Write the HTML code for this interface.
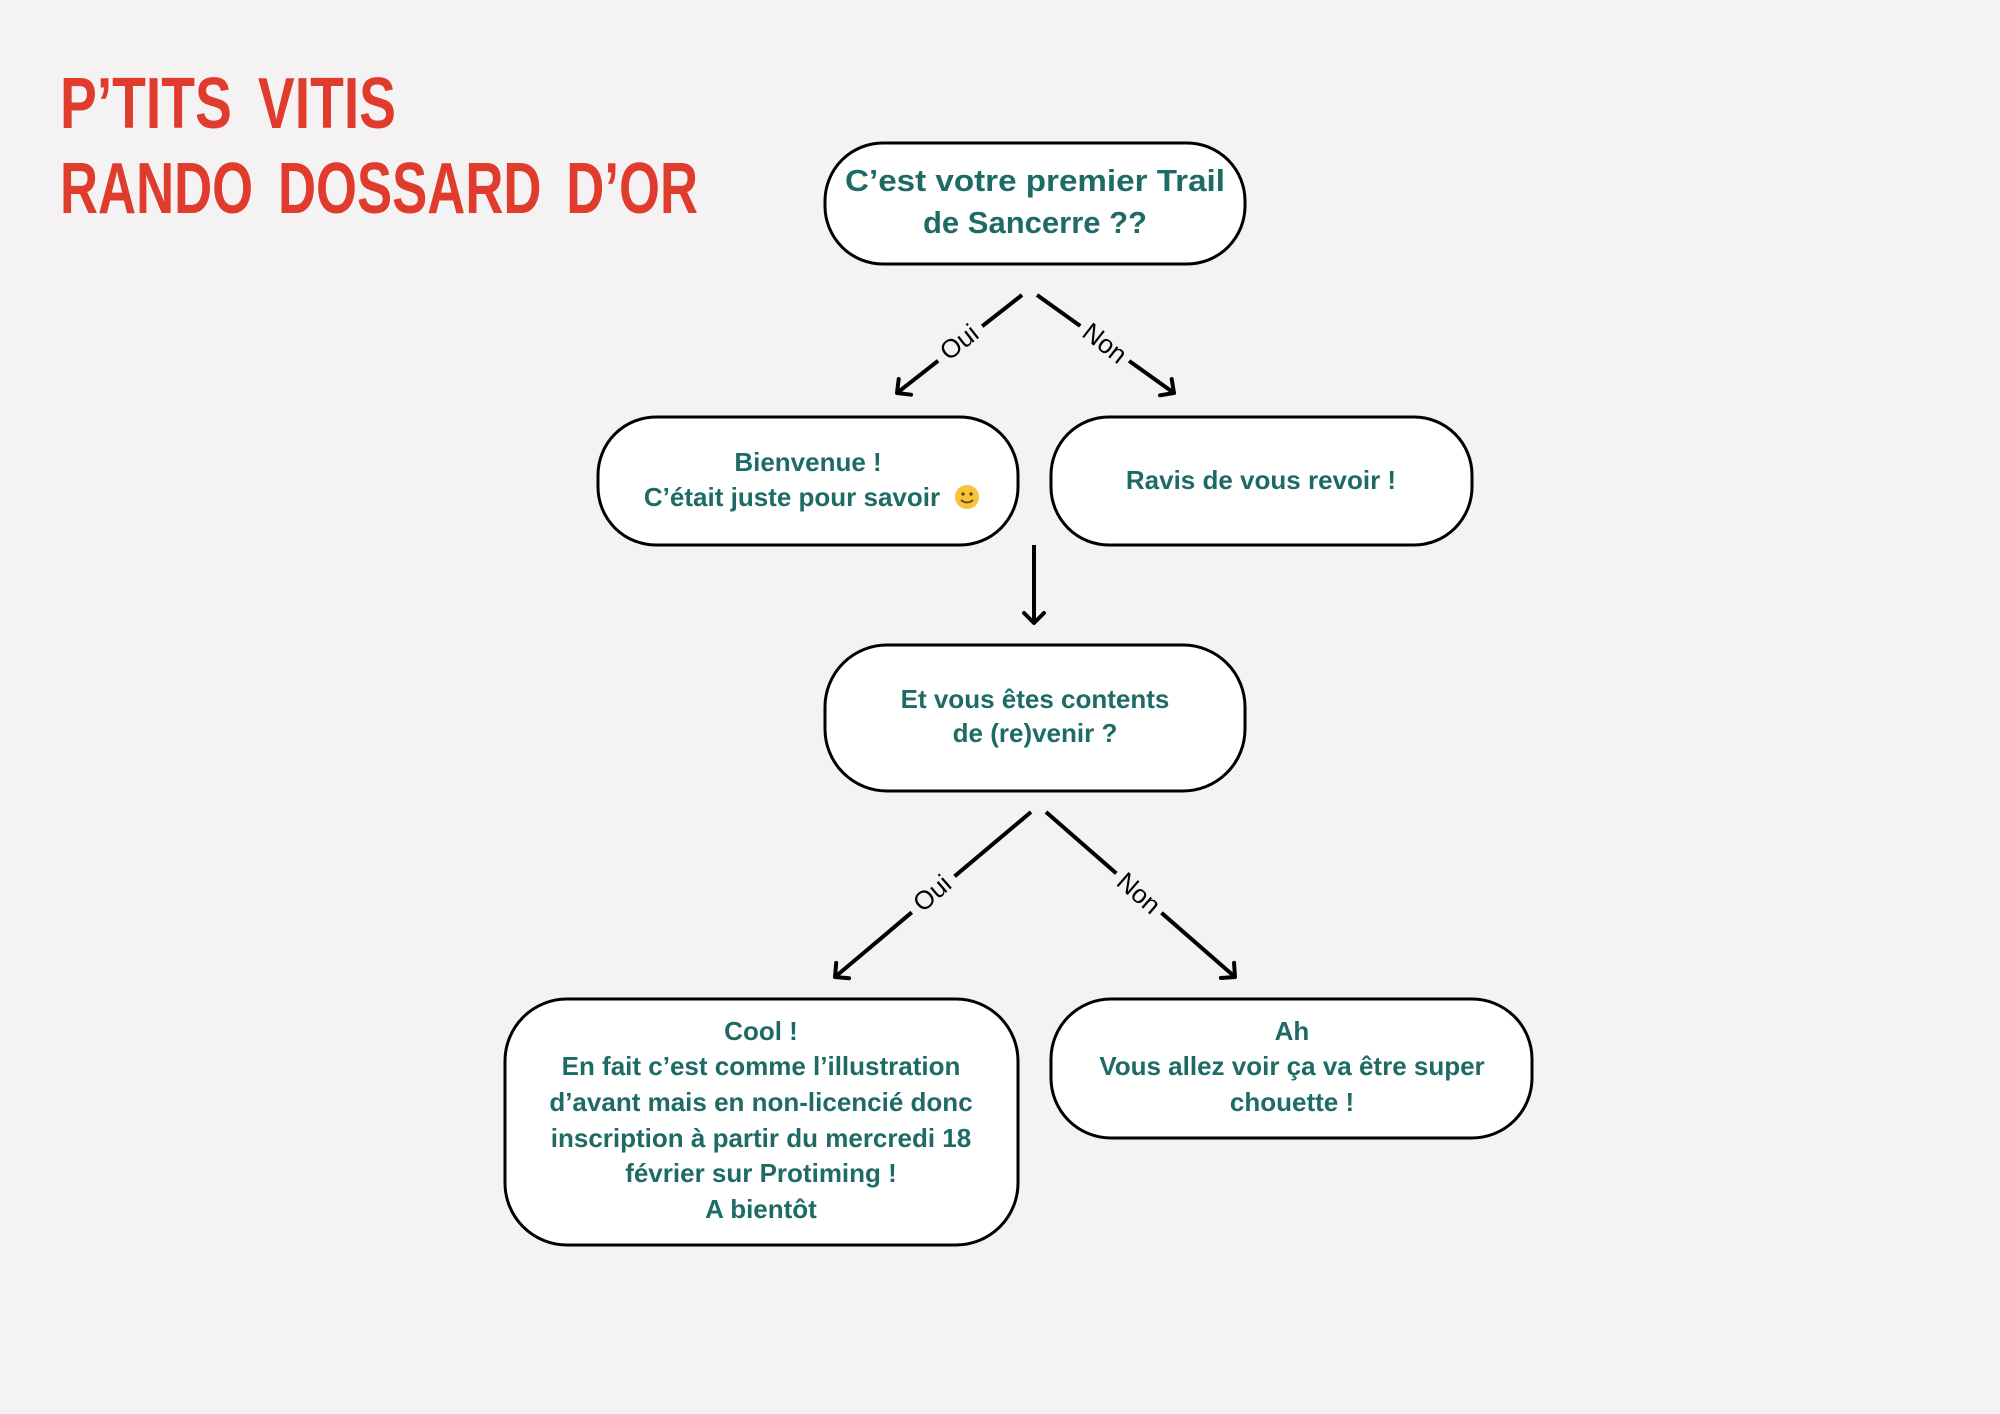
<!DOCTYPE html>
<html><head><meta charset="utf-8"><style>
html,body{margin:0;padding:0;background:#f4f2f2;}
svg{display:block}
.t{font-family:"Liberation Sans",sans-serif;font-weight:bold;fill:#1e6b66;text-anchor:middle}
.l{font-family:"Liberation Sans",sans-serif;font-size:26px;fill:#000;text-anchor:middle}
.b{fill:#fff;stroke:#000;stroke-width:3}
.a{stroke:#000;stroke-width:4;fill:none;marker-end:url(#m)}
</style></head><body>
<svg width="2000" height="1414" viewBox="0 0 2000 1414" xmlns="http://www.w3.org/2000/svg">
<defs><marker id="m" markerWidth="24" markerHeight="24" refX="12" refY="12" orient="auto" markerUnits="userSpaceOnUse" viewBox="0 0 24 24" overflow="visible">
<polyline points="2,2 12,12 2,22" fill="none" stroke="#000" stroke-width="4" stroke-linecap="round" stroke-linejoin="round"/>
</marker></defs>
<rect width="2000" height="1414" fill="#f4f2f2"/>
<g font-family="'Liberation Sans Narrow','Liberation Sans',sans-serif" font-weight="bold" fill="#e03c2e">
<text x="60" y="128" font-size="72" textLength="336" lengthAdjust="spacingAndGlyphs" word-spacing="14">P’TITS  VITIS</text>
<text x="60" y="213" font-size="72" textLength="638" lengthAdjust="spacingAndGlyphs" word-spacing="14">RANDO  DOSSARD  D’OR</text>
</g>
<rect class="b" x="825" y="143" width="420" height="121" rx="58"/>
<rect class="b" x="598" y="417" width="420" height="128" rx="58"/>
<rect class="b" x="1051" y="417" width="421" height="128" rx="58"/>
<rect class="b" x="825" y="645" width="420" height="146" rx="62"/>
<rect class="b" x="505" y="999" width="513" height="246" rx="62"/>
<rect class="b" x="1051" y="999" width="481" height="139" rx="60"/>

<text class="t" font-size="31" x="1035" y="191" textLength="380" lengthAdjust="spacingAndGlyphs">C’est votre premier Trail</text>
<text class="t" font-size="31" x="1035" y="233">de Sancerre ??</text>
<text class="t" font-size="26" x="808" y="471">Bienvenue !</text>
<text class="t" font-size="26" x="792" y="506">C’était juste pour savoir</text>
<circle cx="967" cy="497" r="12" fill="#f6c33a"/>
<circle cx="963" cy="494" r="1.6" fill="#5a3a10"/><circle cx="971" cy="494" r="1.6" fill="#5a3a10"/>
<path d="M961 500 Q967 505 973 500" stroke="#5a3a10" stroke-width="1.6" fill="none"/>
<text class="t" font-size="26" x="1261" y="489">Ravis de vous revoir !</text>
<text class="t" font-size="26" x="1035" y="708">Et vous êtes contents</text>
<text class="t" font-size="26" x="1035" y="742">de (re)venir ?</text>
<g class="t" font-size="26">
<text x="761" y="1040">Cool !</text>
<text x="761" y="1075">En fait c’est comme l’illustration</text>
<text x="761" y="1111">d’avant mais en non-licencié donc</text>
<text x="761" y="1147">inscription à partir du mercredi 18</text>
<text x="761" y="1182">février sur Protiming !</text>
<text x="761" y="1218">A bientôt</text>
<text x="1292" y="1040">Ah</text>
<text x="1292" y="1075">Vous allez voir ça va être super</text>
<text x="1292" y="1111">chouette !</text>
</g>

<line class="a" x1="1022" y1="295" x2="897" y2="393"/>
<line class="a" x1="1037" y1="295" x2="1174" y2="393"/>
<line class="a" x1="1034" y1="545" x2="1034" y2="623"/>
<line class="a" x1="1031" y1="812" x2="835" y2="977"/>
<line class="a" x1="1046" y1="812" x2="1235" y2="977"/>

<g transform="translate(959,342) rotate(-38)"><rect x="-28" y="-17" width="56" height="32" fill="#f4f2f2"/><text class="l" y="9">Oui</text></g>
<g transform="translate(1105,343) rotate(38)"><rect x="-30" y="-17" width="60" height="32" fill="#f4f2f2"/><text class="l" y="9">Non</text></g>
<g transform="translate(932,893) rotate(-41)"><rect x="-28" y="-17" width="56" height="32" fill="#f4f2f2"/><text class="l" y="9">Oui</text></g>
<g transform="translate(1139,893) rotate(41)"><rect x="-30" y="-17" width="60" height="32" fill="#f4f2f2"/><text class="l" y="9">Non</text></g>
</svg>
</body></html>
